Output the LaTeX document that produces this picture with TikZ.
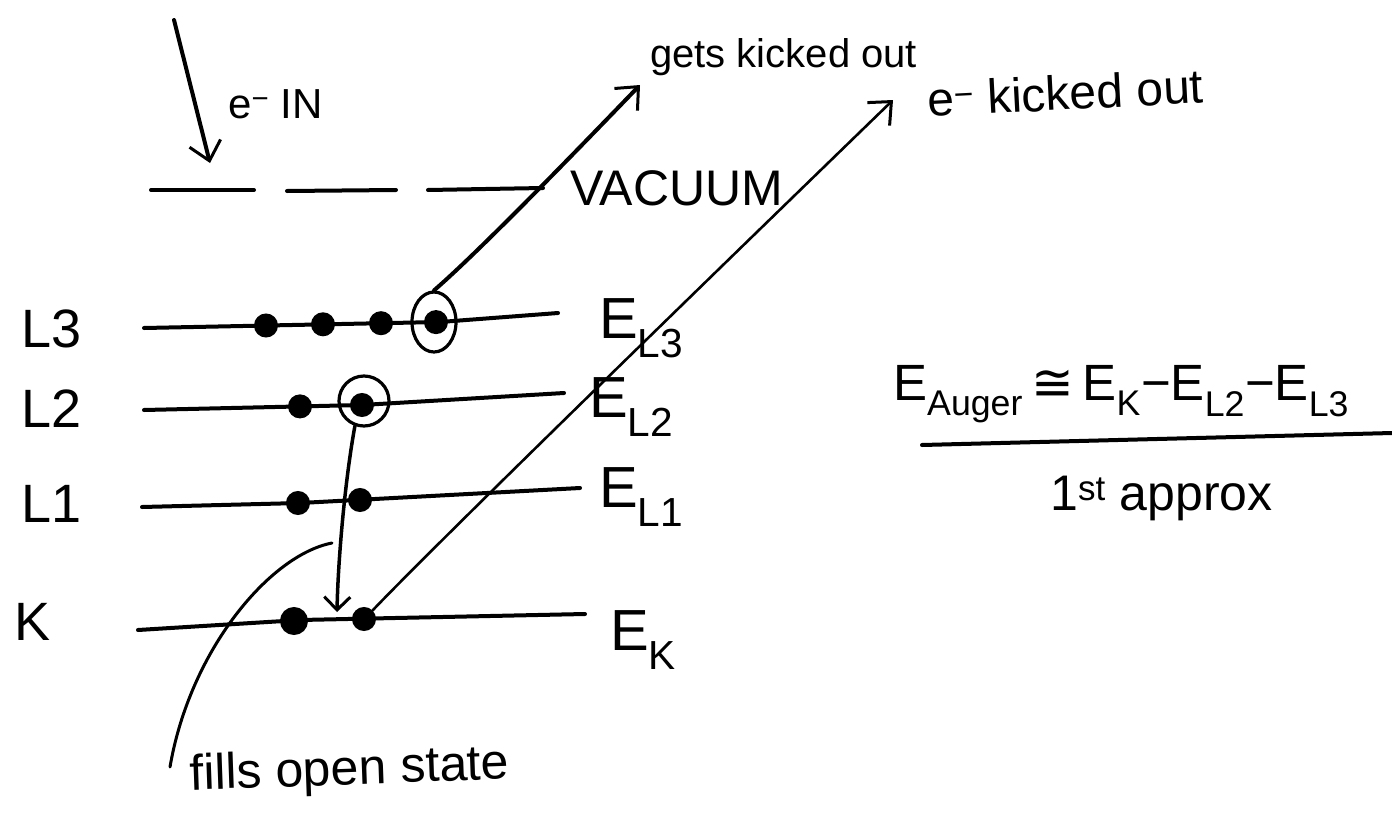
\documentclass[tikz,border=0pt]{standalone}
\usepackage{fontspec}
\setmainfont{Liberation Sans}
\newfontfamily\symbolfont{DejaVu Sans}
\usetikzlibrary{arrows.meta,shapes.geometric}
\begin{document}
\begin{tikzpicture}[x=1pt,y=-1pt,
  ink/.style={line width=4pt,line cap=round,line join=round},
  fine/.style={line width=2.6pt,line cap=round},
  barb/.style={-{Straight Barb[length=18pt,width=32pt,line width=3pt]}},
  smallbarb/.style={-{Straight Barb[length=13pt,width=26pt,line width=3pt]}},
  dot/.style={circle,fill=black,draw=black,line width=2pt,inner sep=0pt,minimum size=22pt},
  ringel/.style={ellipse,draw=black,line width=3.2pt,inner sep=0pt},
  txt/.style={inner sep=0pt,anchor=base west},
]
\useasboundingbox (0,0) rectangle (1392,830);

% level labels
\node[txt,font=\fontsize{54}{60}\selectfont] (lL3) at (21,347) {L3};
\node[txt,font=\fontsize{54}{60}\selectfont] (lL2) at (21,427) {L2};
\node[txt,font=\fontsize{54}{60}\selectfont] (lL1) at (21,522) {L1};
\node[txt,font=\fontsize{54}{60}\selectfont] (lK) at (14,640) {K};

% energy labels
\node[txt,font=\fontsize{58}{64}\selectfont] (eL3) at (599,338) {E\textsubscript{L3}};
\node[txt,font=\fontsize{58}{64}\selectfont] (eL2) at (589,417) {E\textsubscript{L2}};
\node[txt,font=\fontsize{58}{64}\selectfont] (eL1) at (599,507) {E\textsubscript{L1}};
\node[txt,font=\fontsize{58}{64}\selectfont] (eK) at (610,650) {E\textsubscript{K}};

% levels
\draw[ink] (144,328) -- (440,322) -- (558,313);
\draw[ink] (144,410) -- (362,405) -- (564,393);
\draw[ink] (142,507) -- (300,503) -- (580,488);
\draw[ink] (138,630) -- (300,620) -- (585,614);

% electrons
\node[dot] (d31) at (266,325.5) {};
\node[dot] (d32) at (323,324.3) {};
\node[dot] (d33) at (381,323.2) {};
\node[dot] (d34) at (436,322.1) {};
\node[ringel,minimum width=44pt,minimum height=60pt] (r3) at (434,322) {};
\node[dot] (d21) at (300,406.4) {};
\node[dot] (d22) at (362,405) {};
\node[ringel,minimum width=50pt,minimum height=50pt] (r2) at (364,401) {};
\node[dot] (d11) at (298,503) {};
\node[dot] (d12) at (360,500) {};
\node[dot,minimum size=26pt] (dk1) at (294,621) {};
\node[dot] (dk2) at (364,619) {};

% vacuum
\draw[ink] (151,190) -- (254,190);
\draw[ink] (287,191) -- (396,190);
\draw[ink] (428,190) -- (543,188);
\node[txt,font=\fontsize{50}{56}\selectfont] (vac) at (570,205) {VACUUM};

% incoming electron
\coordinate (einA) at (174,20);
\coordinate (einB) at (210,163);
\draw[ink,barb] (einA) -- (einB);
\node[txt,font=\fontsize{42}{48}\selectfont] (ein) at (228,118) {e\textsuperscript{−} IN};

% gets kicked out
\node[txt,font=\fontsize{40}{46}\selectfont] (gko) at (650,67) {gets kicked out};
\coordinate (gkoTip) at (640,85);
\draw[ink,barb] (r3.north) .. controls (475,255) and (560,168) .. (gkoTip);

% e- kicked out
\node[txt,font=\fontsize{48}{54}\selectfont,rotate=3] (eko) at (928,117) {e\textsuperscript{−} kicked out};
\coordinate (ekoTip) at (893,100);
\draw[fine,barb] (dk2.north east) .. controls (392,590) and (470,510) .. (ekoTip);

% transition L2 -> K
\coordinate (kin) at (337,612);
\draw[ink,line width=3.5pt,smallbarb] (r2.250) .. controls (345,480) and (338,560) .. (kin);

% fills open state
\coordinate (fillA) at (332,543);
\coordinate (fillB) at (170,767);
\draw[fine,line width=3pt] (fillA) .. controls (270,555) and (190,650) .. (fillB);
\node[txt,font=\fontsize{50}{56}\selectfont,rotate=2] (fills) at (190,790) {fills open state};

% Auger formula
\node[txt,font=\fontsize{51}{58}\selectfont] (auger) at (893,400) {E\textsubscript{Auger}\,{\symbolfont ≅}\,E\textsubscript{K}−E\textsubscript{L2}−E\textsubscript{L3}};
\coordinate (barA) at (922,445);
\coordinate (barB) at (1392,433);
\draw[ink] (barA) -- (barB);
\node[txt,font=\fontsize{50}{56}\selectfont] (approx) at (1050,510) {1\textsuperscript{st} approx};
\end{tikzpicture}
\end{document}
